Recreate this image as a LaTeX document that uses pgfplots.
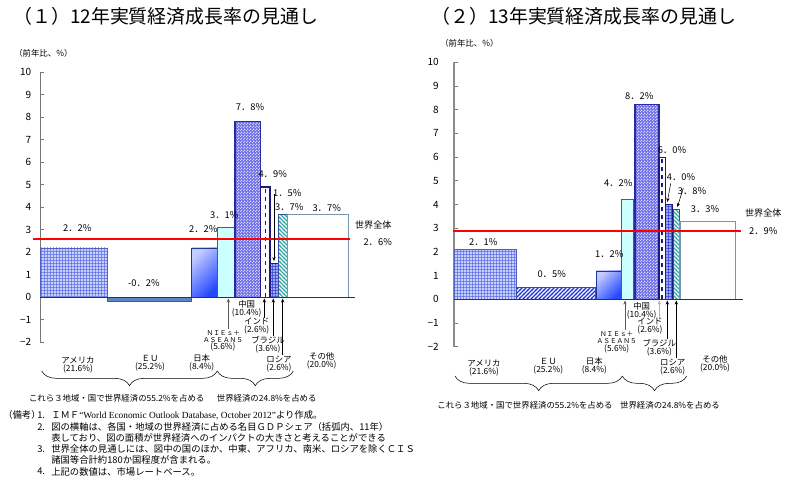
\documentclass[border=0pt]{standalone}
\usepackage{fontspec}
\setmainfont{Noto Sans CJK JP}
\newfontfamily\latinserif{Liberation Serif}
\usepackage{pgfplots}
\pgfplotsset{compat=1.18}
\usetikzlibrary{patterns,decorations.pathreplacing,arrows.meta}

% fine fill patterns
\pgfdeclarepatternformonly{finegrid}{\pgfqpoint{0pt}{0pt}}{\pgfqpoint{2.2pt}{2.2pt}}{\pgfqpoint{2.2pt}{2.2pt}}{%
  \pgfpathrectangle{\pgfqpoint{0pt}{0pt}}{\pgfqpoint{2.2pt}{0.55pt}}%
  \pgfpathrectangle{\pgfqpoint{0pt}{0pt}}{\pgfqpoint{0.55pt}{2.2pt}}%
  \pgfusepath{fill}}
\pgfdeclarepatternformonly{finechecker}{\pgfqpoint{0pt}{0pt}}{\pgfqpoint{2pt}{2pt}}{\pgfqpoint{2pt}{2pt}}{%
  \pgfpathrectangle{\pgfqpoint{0pt}{0pt}}{\pgfqpoint{1pt}{1pt}}%
  \pgfpathrectangle{\pgfqpoint{1pt}{1pt}}{\pgfqpoint{1pt}{1pt}}%
  \pgfusepath{fill}}
\pgfdeclarepatternformonly{diagne}{\pgfqpoint{-1pt}{-1pt}}{\pgfqpoint{4pt}{4pt}}{\pgfqpoint{3pt}{3pt}}{%
  \pgfsetlinewidth{0.9pt}%
  \pgfpathmoveto{\pgfqpoint{-0.2pt}{-0.2pt}}\pgfpathlineto{\pgfqpoint{3.2pt}{3.2pt}}%
  \pgfusepath{stroke}}
\pgfdeclarepatternformonly{diagnw}{\pgfqpoint{-1pt}{-1pt}}{\pgfqpoint{4pt}{4pt}}{\pgfqpoint{3pt}{3pt}}{%
  \pgfsetlinewidth{0.9pt}%
  \pgfpathmoveto{\pgfqpoint{-0.2pt}{3.2pt}}\pgfpathlineto{\pgfqpoint{3.2pt}{-0.2pt}}%
  \pgfusepath{stroke}}

\definecolor{usfill}{HTML}{C9D0FB}
\definecolor{usgrid}{HTML}{5468E8}
\definecolor{usedge}{HTML}{5060C0}
\definecolor{eufill}{HTML}{5A84C2}
\definecolor{euedge}{HTML}{3A5F95}
\definecolor{eulines}{HTML}{2436C8}
\definecolor{jplight}{HTML}{C4CCFF}
\definecolor{jpdark}{HTML}{2448FF}
\definecolor{jpedge}{HTML}{203890}
\definecolor{niefill}{HTML}{CCFFFF}
\definecolor{nieedge}{HTML}{405A9A}
\definecolor{cnfill}{HTML}{6C6CE8}
\definecolor{cnedge}{HTML}{2A2AA0}
\definecolor{navy}{HTML}{1A1A80}
\definecolor{brfill}{HTML}{A0A8F4}
\definecolor{brgrid}{HTML}{2B3BD8}
\definecolor{ruline}{HTML}{33AAAA}
\definecolor{ruedge}{HTML}{3050A0}
\definecolor{otedge}{HTML}{7A94B4}
\definecolor{axisgray}{HTML}{777777}

\newcommand\tickfont{\fontsize{7.5}{8}\selectfont}
\newcommand\valfont{\fontsize{7}{8}\selectfont}
\newcommand\smallfont{\fontsize{6.3}{6}\selectfont}
\newcommand\tinyfont{\fontsize{5}{6}\selectfont}
\newcommand\fnfont{\fontsize{7}{8}\selectfont}

\pgfplotsset{
  panel/.style={
    scale only axis, anchor=south west, clip=false,
    axis x line=none, axis y line=left,
    every outer y axis line/.append style={-},
    ymin=-2, ymax=10, ytick={-2,-1,0,1,2,3,4,5,6,7,8,9,10},
    yticklabels={−2,−1,0,1,2,3,4,5,6,7,8,9,10},
    tick align=inside, major tick length=3pt,
    tick style={draw=axisgray, line width=0.6pt},
    yticklabel style={font=\tickfont, anchor=east},
  }
}

\begin{document}
\begin{tikzpicture}
\useasboundingbox (0,0) rectangle (592.5pt,-367.5pt);

% ---------- (1) 2012 ----------
\begin{axis}[panel, at={(30pt,-256.725pt)}, width=236.25pt, height=202.5pt,
  xmin=40, xmax=355, yticklabel style={xshift=-3pt},
  axis line style={-, draw=axisgray, line width=0.75pt}]
% United States
\addplot[draw=usedge, fill=usfill, postaction={pattern=finegrid, pattern color=usgrid}]
  coordinates {(40,0)(40,2.2)(107.3,2.2)(107.3,0)} --cycle;
% EU
\addplot[draw=euedge, fill=eufill, line width=0.8pt]
  coordinates {(107.3,0)(107.3,-0.2)(191.7,-0.2)(191.7,0)} --cycle;
% Japan
\addplot[draw=jpedge, top color=jplight, bottom color=jpdark, shading angle=45]
  coordinates {(191.7,0)(191.7,2.2)(217.3,2.2)(217.3,0)} --cycle;
% NIEs + ASEAN5
\addplot[draw=nieedge, fill=niefill, line width=0.8pt]
  coordinates {(217.3,0)(217.3,3.1)(235,3.1)(235,0)} --cycle;
% China
\addplot[draw=cnedge, fill=cnfill, line width=0.8pt, postaction={pattern=finechecker, pattern color=white!70!cnfill}]
  coordinates {(235,0)(235,7.8)(260.7,7.8)(260.7,0)} --cycle;
% India
\addplot[draw=navy, fill=white, line width=1pt]
  coordinates {(260.7,0)(260.7,4.9)(270,4.9)(270,0)} --cycle;
\addplot[draw=navy, dashed, line width=1pt] coordinates {(265.35,0)(265.35,4.9)};
% Brazil
\addplot[draw=navy, fill=brfill, line width=0.8pt, postaction={pattern=finegrid, pattern color=brgrid}]
  coordinates {(270,0)(270,1.5)(278.7,1.5)(278.7,0)} --cycle;
% Russia
\addplot[draw=ruedge, fill=white, line width=0.8pt, postaction={pattern=diagnw, pattern color=ruline}]
  coordinates {(278.7,0)(278.7,3.7)(287.7,3.7)(287.7,0)} --cycle;
% Others
\addplot[draw=otedge, fill=white, line width=0.8pt]
  coordinates {(287.7,0)(287.7,3.7)(348.3,3.7)(348.3,0)} --cycle;
% zero line and world growth
\addplot[draw=black!80, line width=0.75pt] coordinates {(40,0)(355,0)};
\addplot[draw=red, line width=1.5pt] coordinates {(33.3,2.6)(350,2.6)};
\end{axis}

% ---------- (2) 2013 ----------
\begin{axis}[panel, at={(340.5pt,-260.025pt)}, width=216.75pt, height=213.3pt,
  xmin=454, xmax=743, yticklabel style={xshift=-8pt},
  axis line style={-, draw=gray!90, line width=1.6pt}]
\addplot[draw=usedge, fill=usfill, postaction={pattern=finegrid, pattern color=usgrid}]
  coordinates {(454,0)(454,2.1)(516.7,2.1)(516.7,0)} --cycle;
\addplot[draw=ruedge, fill=white, line width=0.8pt, postaction={pattern=diagne, pattern color=eulines}]
  coordinates {(516.7,0)(516.7,0.5)(596,0.5)(596,0)} --cycle;
\addplot[draw=jpedge, top color=jplight, bottom color=jpdark, shading angle=45]
  coordinates {(596,0)(596,1.2)(621.7,1.2)(621.7,0)} --cycle;
\addplot[draw=nieedge, fill=niefill, line width=0.8pt]
  coordinates {(621.7,0)(621.7,4.2)(633.3,4.2)(633.3,0)} --cycle;
\addplot[draw=cnedge, fill=cnfill, line width=0.8pt, postaction={pattern=finechecker, pattern color=white!70!cnfill}]
  coordinates {(635,0)(635,8.2)(659,8.2)(659,0)} --cycle;
\addplot[draw=navy, fill=white, line width=0.8pt]
  coordinates {(659,0)(659,6.0)(665.3,6.0)(665.3,0)} --cycle;
\addplot[draw=navy, dashed, line width=1pt] coordinates {(662.15,0)(662.15,6.0)};
\addplot[draw=navy, fill=brfill, line width=0.8pt, postaction={pattern=finegrid, pattern color=brgrid}]
  coordinates {(665.3,0)(665.3,4.0)(672.7,4.0)(672.7,0)} --cycle;
\addplot[draw=ruedge, fill=white, line width=0.8pt, postaction={pattern=diagnw, pattern color=ruline}]
  coordinates {(673.3,0)(673.3,3.8)(679.3,3.8)(679.3,0)} --cycle;
\addplot[draw=otedge, fill=white, line width=0.8pt]
  coordinates {(680,0)(680,3.3)(735.7,3.3)(735.7,0)} --cycle;
\addplot[draw=black!80, line width=0.75pt] coordinates {(454,0)(743,0)};
\addplot[draw=red, line width=1.5pt] coordinates {(453,2.9)(741,2.9)};
\end{axis}

% ---------- text and annotations (pixel grid, y downward) ----------
\begin{scope}[x=0.75pt, y=-0.75pt]
% titles
\node[anchor=west, font=\fontsize{14.2}{16}\selectfont, inner sep=0] at (13,16) {（１）12年実質経済成長率の見通し};
\node[anchor=west, font=\fontsize{14.2}{16}\selectfont, inner sep=0] at (431,16) {（２）13年実質経済成長率の見通し};
\node[anchor=west, font=\smallfont, inner sep=0] at (14,53) {（前年比、\%）};
\node[anchor=west, font=\smallfont, inner sep=0] at (440,43) {（前年比、\%）};

% value labels, panel 1
\begin{scope}[every node/.style={font=\valfont, inner sep=0}]
\node at (77.3,228.3) {2．2\%};
\node at (144,283.3) {-0．2\%};
\node at (203.3,229) {2．2\%};
\node at (224.3,215) {3．1\%};
\node at (250,107.3) {7．8\%};
\node at (272.7,174) {4．9\%};
\node at (287.3,192.7) {1．5\%};
\node at (289.3,206.7) {3．7\%};
\node at (326.7,208.3) {3．7\%};
\node at (377.7,241.7) {2．6\%};
% value labels, panel 2
\node at (483.3,241.7) {2．1\%};
\node at (551.7,274) {0．5\%};
\node at (609.3,254) {1．2\%};
\node at (618.3,182.7) {4．2\%};
\node at (639.3,95.7) {8．2\%};
\node at (672,150.5) {6．0\%};
\node at (681,177.3) {4．0\%};
\node at (692,191) {3．8\%};
\node at (705,209.3) {3．3\%};
\node at (763.3,230.7) {2．9\%};
\end{scope}
\node[font=\fontsize{6.8}{8}\selectfont, inner sep=0] at (373.3,225) {世界全体};
\node[font=\fontsize{6.8}{8}\selectfont, inner sep=0] at (763.3,212.7) {世界全体};

% pointers to small bars
\draw[-{Stealth[length=3pt,width=2.5pt]}, thin] (274,194) -- (274,261);
\draw[-{Stealth[length=3pt,width=2.5pt]}, thin] (670.7,183.3) -- (667.3,202);
\draw[-{Stealth[length=3pt,width=2.5pt]}, thin] (683.3,188.3) -- (677.3,207);

% category arrows below the axis
\draw[-{Stealth[length=3pt,width=2.5pt]}, thin, gray!70!black] (228.3,329) -- (228.3,298.5);
\draw[-{Stealth[length=3pt,width=2.5pt]}, thin] (264.3,318) -- (264.3,298.5);
\draw[-{Stealth[length=3pt,width=2.5pt]}, thin] (273.3,336) -- (273.3,298.5);
\draw[-{Stealth[length=3pt,width=2.5pt]}, thin] (282.7,355) -- (282.7,298.5);
\draw[-{Stealth[length=3pt,width=2.5pt]}, thin, gray!70!black] (625,330) -- (625,300.5);
\draw[-{Stealth[length=3pt,width=2.5pt]}, thin, gray!60] (659.3,318) -- (659.3,300.5);
\draw[-{Stealth[length=3pt,width=2.5pt]}, thin] (667.3,339) -- (667.3,300.5);
\draw[-{Stealth[length=3pt,width=2.5pt]}, thin] (676.3,358) -- (676.3,300.5);

% category names, panel 1
\begin{scope}[every node/.style={font=\smallfont, align=center, inner sep=0}]
\node at (246.7,309) {中国\\(10.4\%)};
\node at (256.7,326) {インド\\(2.6\%)};
\node at (268,344.5) {ブラジル\\(3.6\%)};
\node at (279,364) {ロシア\\(2.6\%)};
\node at (78,365.3) {アメリカ\\(21.6\%)};
\node at (150,363.5) {ＥＵ\\(25.2\%)};
\node at (201.7,363) {日本\\(8.4\%)};
\node at (321.7,360.5) {その他\\(20.0\%)};
\node at (223,347) {(5.6\%)};
% category names, panel 2
\node at (641.7,310.3) {中国\\(10.4\%)};
\node at (650,326.5) {インド\\(2.6\%)};
\node at (659.3,348) {ブラジル\\(3.6\%)};
\node at (672.7,367) {ロシア\\(2.6\%)};
\node at (484,368) {アメリカ\\(21.6\%)};
\node at (548.3,366) {ＥＵ\\(25.2\%)};
\node at (594.3,366) {日本\\(8.4\%)};
\node at (715,363.5) {その他\\(20.0\%)};
\node at (616.7,349) {(5.6\%)};
\end{scope}
\begin{scope}[every node/.style={font=\tinyfont, inner sep=0}]
\node at (223.3,333) {ＮＩＥｓ＋};
\node at (223,340) {ＡＳＥＡＮ５};
\node at (616.7,334) {ＮＩＥｓ＋};
\node at (616.7,341.5) {ＡＳＥＡＮ５};
\end{scope}

% braces
\draw[thin, decorate, decoration={brace, amplitude=11pt}] (217.3,371) -- (41.7,371);
\draw[thin, decorate, decoration={brace, amplitude=11pt}] (293.3,371) -- (217.3,371);
\draw[thin, decorate, decoration={brace, amplitude=11pt}] (622.3,376) -- (455,376);
\draw[thin, decorate, decoration={brace, amplitude=11pt}] (686.7,376) -- (622.3,376);
\node[font=\smallfont, inner sep=0] at (116.7,398.3) {これら３地域・国で世界経済の55.2\%を占める};
\node[font=\smallfont, inner sep=0] at (266.7,398) {世界経済の24.8\%を占める};
\node[font=\smallfont, inner sep=0] at (525,405) {これら３地域・国で世界経済の55.2\%を占める};
\node[font=\smallfont, inner sep=0] at (670,405) {世界経済の24.8\%を占める};

% notes
\begin{scope}[every node/.style={font=\fnfont, anchor=west, inner sep=0}]
\node at (3,415) {（備考）};
\node at (37,415) {1.};
\node at (51,415) {ＩＭＦ{\latinserif“World Economic Outlook Database, October 2012”}より作成。};
\node at (37,426.7) {2.};
\node at (51,426.7) {図の横軸は、各国・地域の世界経済に占める名目ＧＤＰシェア（括弧内、11年）};
\node at (51,437.8) {表しており、図の面積が世界経済へのインパクトの大きさと考えることができる};
\node at (37,449.3) {3.};
\node at (51,449.3) {世界全体の見通しには、図中の国のほか、中東、アフリカ、南米、ロシアを除くＣＩＳ};
\node at (51,460.3) {諸国等合計約180か国程度が含まれる。};
\node at (37,471.7) {4.};
\node at (51,471.7) {上記の数値は、市場レートベース。};
\end{scope}
\end{scope}
\end{tikzpicture}
\end{document}
